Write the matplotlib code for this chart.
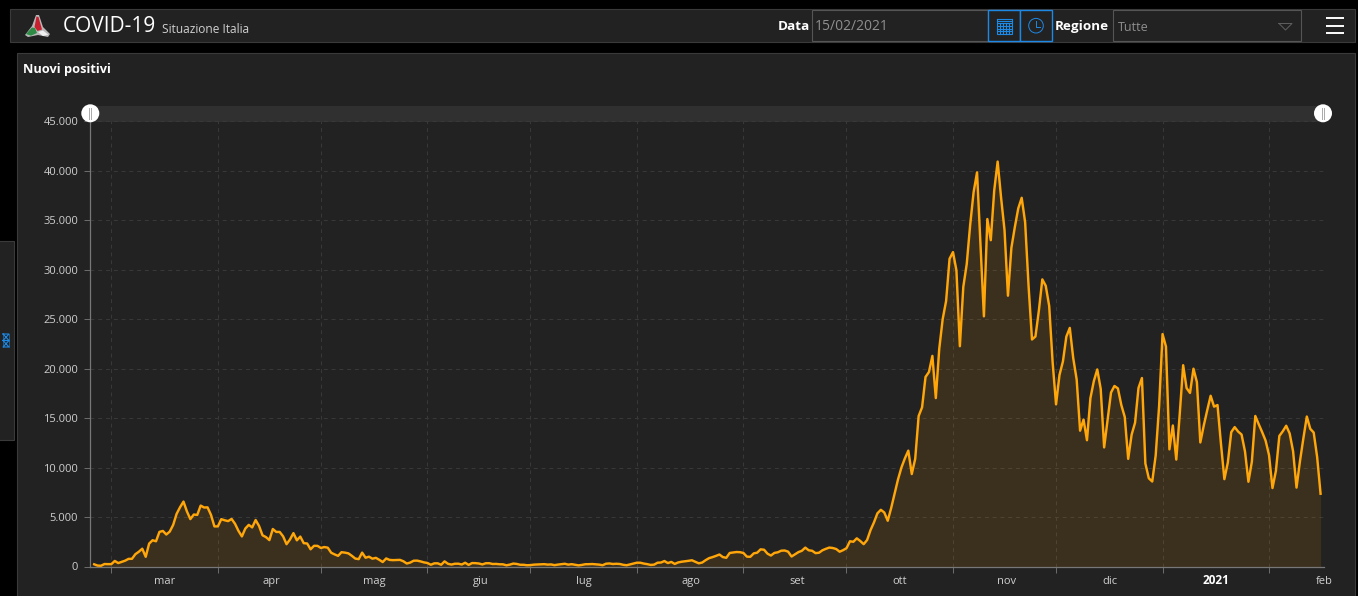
import datetime as dt

import matplotlib
matplotlib.use('Agg')
import matplotlib.dates as mdates
import matplotlib.pyplot as plt
from matplotlib.patches import Circle, Polygon, Rectangle

W, H = 1358, 596

# daily new cases from 24 Feb 2020 to 15 Feb 2021
feb_2020 = [221, 93, 78, 250, 238, 240]
mar_2020 = [561, 347, 466, 587, 769, 778, 1247, 1492, 1797, 977, 2313, 2651, 2547, 3497, 3590, 3233,
            3526, 4207, 5322, 5986, 6557, 5560, 4789, 5249, 5210, 6153, 5959, 5974, 5217, 4050, 4053]
apr_2020 = [4782, 4668, 4585, 4805, 4316, 3599, 3039, 3836, 4204, 3951, 4694, 4092, 3153, 2972, 2667,
            3786, 3493, 3491, 3047, 2256, 2729, 3370, 2646, 3021, 2357, 2324, 1739, 2091, 2086, 1872]
may_2020 = [1965, 1900, 1389, 1221, 1075, 1444, 1401, 1327, 1083, 802, 744, 1402, 888, 992, 789, 875,
            675, 451, 813, 665, 642, 652, 669, 531, 300, 397, 584, 593, 516, 416, 355]
jun_2020 = [178, 318, 321, 177, 518, 270, 197, 280, 283, 202, 379, 163, 346, 338, 301,
            210, 328, 331, 251, 262, 224, 218, 122, 190, 296, 259, 175, 174, 126, 142]
jul_2020 = [187, 201, 223, 235, 192, 208, 138, 193, 229, 276, 188, 234, 169, 114, 162, 230,
            233, 249, 219, 190, 129, 282, 306, 252, 275, 255, 170, 128, 212, 289, 386]
aug_2020 = [379, 295, 239, 159, 190, 384, 402, 552, 347, 463, 259, 412, 481, 523, 574, 629,
            479, 320, 403, 642, 845, 947, 1071, 1210, 953, 878, 1367, 1411, 1462, 1444, 1365]
sep_2020 = [996, 978, 1326, 1397, 1733, 1695, 1297, 1108, 1370, 1434, 1597, 1616, 1501, 1008, 1229,
            1452, 1585, 1907, 1638, 1587, 1350, 1391, 1640, 1786, 1912, 1869, 1766, 1494, 1648, 1851]
oct_2020 = [2548, 2499, 2844, 2578, 2257, 2677, 3678, 4458, 5372, 5724, 5456, 4619, 5901, 7332, 8804, 10010,
            10925, 11705, 9338, 10874, 15199, 16079, 19143, 19644, 21273, 17012, 21994, 24991, 26831, 31084, 31758]
nov_2020 = [29907, 22253, 28244, 30550, 34505, 37809, 39811, 32616, 25271, 35098, 32961, 37978, 40902, 37255, 33979,
            27354, 32191, 34283, 36176, 37242, 34767, 28337, 22930, 23232, 25853, 29003, 28352, 26323, 20648, 16377]
dec_2020 = [19350, 20709, 23225, 24099, 21052, 18887, 13720, 14842, 12756, 16999, 18727, 19903, 17938, 12030, 14844, 17572,
            18236, 17992, 16308, 15104, 10872, 13318, 14522, 18040, 19037, 10407, 8913, 8585, 11212, 16202, 23477]
jan_2021 = [22211, 11831, 14245, 10800, 15378, 20331, 18020, 17533, 19978, 18627, 12532, 14242, 15774, 17246, 16146, 16310,
            12415, 8824, 10497, 13571, 14078, 13633, 13331, 11629, 8561, 10593, 15204, 14372, 13574, 12715, 11252]
feb_2021 = [7925, 9660, 13189, 13659, 14218, 13442, 11641, 7970, 10630, 12956, 15146, 13908, 13532, 11068, 7351]

y_ticks = [0, 5000, 10000, 15000, 20000, 25000, 30000, 35000, 40000, 45000]
y_labels = ['0', '5.000', '10.000', '15.000', '20.000', '25.000', '30.000', '35.000', '40.000', '45.000']
month_labels = ['mar', 'apr', 'mag', 'giu', 'lug', 'ago', 'set', 'ott', 'nov', 'dic', '2021', 'feb']

new_cases = (feb_2020 + mar_2020 + apr_2020 + may_2020 + jun_2020 + jul_2020 + aug_2020
             + sep_2020 + oct_2020 + nov_2020 + dec_2020 + jan_2021 + feb_2021)
start = dt.datetime(2020, 2, 25)
days = [start + dt.timedelta(days=i) for i in range(len(new_cases))]

month_starts = [dt.datetime(2020, m, 1) for m in range(3, 13)] + [dt.datetime(2021, 1, 1), dt.datetime(2021, 2, 1)]
month_mids = [d + dt.timedelta(days=15.6) for d in month_starts]
month_mids[-1] = dt.datetime(2021, 2, 17)

plt.rcParams['font.family'] = ['Open Sans', 'DejaVu Sans']

fig = plt.figure(figsize=(W / 100, H / 100), dpi=100, facecolor='black')

# overlay in pixel coordinates for the page furniture
ui = fig.add_axes([0, 0, 1, 1], zorder=0)
ui.set_xlim(0, W)
ui.set_ylim(H, 0)
ui.axis('off')

panel = '#222222'
edge = '#3a3a3a'
blue = '#1e88e5'
ui.add_patch(Rectangle((10, 9), 1345, 33, fc=panel, ec=edge, lw=0.8))
ui.add_patch(Rectangle((17, 53), 1338, 550, fc=panel, ec=edge, lw=0.8))
ui.add_patch(Rectangle((-2, 241), 15.5, 199, fc=panel, ec=edge, lw=0.8))

# collapse icon on the side tab
for iy in [334, 340.5]:
    ui.plot([3, 9, 3, 9, 3], [iy, iy + 6.5, iy + 6.5, iy, iy], color=blue, lw=0.8)
    ui.plot([3, 3], [iy, iy + 6.5], color=blue, lw=0.4)
    ui.plot([9, 9], [iy, iy + 6.5], color=blue, lw=0.4)

# logo
ui.add_patch(Polygon([[36, 15], [39, 15], [43, 27], [50, 34], [48, 37], [38, 35], [28, 37], [25, 35], [32, 26]],
                     fc='#b8b8b8', ec='none'))
ui.add_patch(Polygon([[36.5, 16.5], [38.5, 17], [42, 29.5], [37.5, 31], [34.5, 27]], fc='#c8202f', ec='none'))
ui.add_patch(Polygon([[26, 34], [32, 27.5], [35, 28], [37, 33], [31, 35.7]], fc='#2e8b45', ec='none'))
ui.add_patch(Polygon([[38, 32], [43, 30.5], [48.3, 34.7], [43, 36]], fc='#f0f0f0', ec='none'))

ui.text(63, 27, 'COVID-19', color='white', fontsize=15, va='center', ha='left')
ui.text(162, 29.5, 'Situazione Italia', color='#d0d0d0', fontsize=8.6, va='center', ha='left')
ui.text(778, 26.5, 'Data', color='white', fontsize=9.7, fontweight='bold', va='center', ha='left')
ui.add_patch(Rectangle((812, 10), 176, 31, fc=panel, ec='#555555', lw=0.8))
ui.text(815, 26, '15/02/2021', color='#8f8f8f', fontsize=10, va='center', ha='left')
ui.add_patch(Rectangle((988, 10), 32, 31, fc=panel, ec=blue, lw=1))
ui.add_patch(Rectangle((1020, 10), 32, 31, fc=panel, ec=blue, lw=1))

# calendar and clock icons
ui.add_patch(Rectangle((996.5, 23), 15, 11, fc='none', ec=blue, lw=0.8))
for gx in [999.5, 1002.5, 1005.5, 1008.5]:
    ui.plot([gx, gx], [23, 34], color=blue, lw=0.8)
for gy in [18.5, 20.5, 25.7, 28.5, 31.2]:
    ui.plot([996.5, 1011.5], [gy, gy], color=blue, lw=0.8)
ui.plot([996.5, 996.5], [18.5, 23], color=blue, lw=0.8)
ui.plot([1011.5, 1011.5], [18.5, 23], color=blue, lw=0.8)
ui.add_patch(Circle((1036, 25.7), 7.3, fc='none', ec=blue, lw=0.7))
ui.plot([1036, 1036, 1040], [20.5, 26.5, 26.5], color=blue, lw=0.7)

ui.text(1055, 26.5, 'Regione', color='white', fontsize=9.7, fontweight='bold', va='center', ha='left')
ui.add_patch(Rectangle((1113, 10), 188, 31, fc=panel, ec='#555555', lw=0.8))
ui.text(1118, 27.5, 'Tutte', color='#8f8f8f', fontsize=9, va='center', ha='left')
ui.plot([1279, 1292, 1285.5, 1279], [23.5, 23.5, 30, 23.5], color='#5f5f5f', lw=0.7)
for hy in [18, 25.5, 33]:
    ui.plot([1326, 1344], [hy, hy], color='white', lw=1.4, solid_capstyle='butt')

ui.text(23, 69, 'Nuovi positivi', color='white', fontsize=9.2, fontweight='bold', va='center', ha='left')

# slider band above the plot
ui.add_patch(Rectangle((90, 106), 1234, 15.5, fc='#303030', ec='none'))

# chart axes: 3.443 px per day, Mar 1 at x=111.4
ax_left, ax_right, ax_top, ax_bottom = 90.0, 1324.0, 121.0, 566.5
ax = fig.add_axes([ax_left / W, 1 - ax_bottom / H, (ax_right - ax_left) / W, (ax_bottom - ax_top) / H], zorder=1)
ax.patch.set_alpha(0)
mar1 = mdates.date2num(dt.datetime(2020, 3, 1))
ax.set_xlim(mar1 - (111.4 - ax_left) / 3.443, mar1 + (ax_right - 111.4) / 3.443)
ax.set_ylim(0, 45000)

ax.fill_between(days, new_cases, 0, color='#ffa500', alpha=0.115, lw=0)
ax.plot(days, new_cases, color='#ffa60a', lw=1.75, solid_joinstyle='round', zorder=3)

ax.set_yticks(y_ticks)
ax.set_yticklabels(y_labels)
ax.set_xticks(month_starts)
ax.set_xticklabels([])
ax.set_xticks(month_mids, minor=True)
ax.set_xticklabels(month_labels, minor=True)
ax.tick_params(axis='y', colors='#6e6e6e', length=4, width=0.7, pad=4.5, labelsize=8, labelcolor='#cfcfcf')
ax.tick_params(axis='x', which='major', colors='#6e6e6e', length=4, width=0.7)
ax.tick_params(axis='x', which='minor', length=0, pad=12.5, labelsize=8, labelcolor='#cfcfcf')
for lab in ax.get_xticklabels(minor=True):
    lab.set_verticalalignment('baseline')
    if lab.get_text() == '2021':
        lab.set_fontweight('bold')
        lab.set_color('white')
        lab.set_fontsize(8.5)

ax.grid(True, which='major', color='#393939', ls=(0, (4, 4)), lw=0.7)
ax.set_axisbelow(True)
for side in ['top', 'right']:
    ax.spines[side].set_visible(False)
for side in ['left', 'bottom']:
    ax.spines[side].set_color('#777777')
    ax.spines[side].set_linewidth(0.9)

# slider handles on top of everything
top = fig.add_axes([0, 0, 1, 1], zorder=2)
top.set_xlim(0, W)
top.set_ylim(H, 0)
top.axis('off')
for cx in [90.3, 1323]:
    top.add_patch(Circle((cx, 113.3), 9, fc='white', ec='none'))
    top.plot([cx - 1.1, cx - 1.1], [108, 119], color='#aaaaaa', lw=0.7)
    top.plot([cx + 1.1, cx + 1.1], [108, 119], color='#aaaaaa', lw=0.7)

fig.savefig('out.png', dpi=100, facecolor='black')
